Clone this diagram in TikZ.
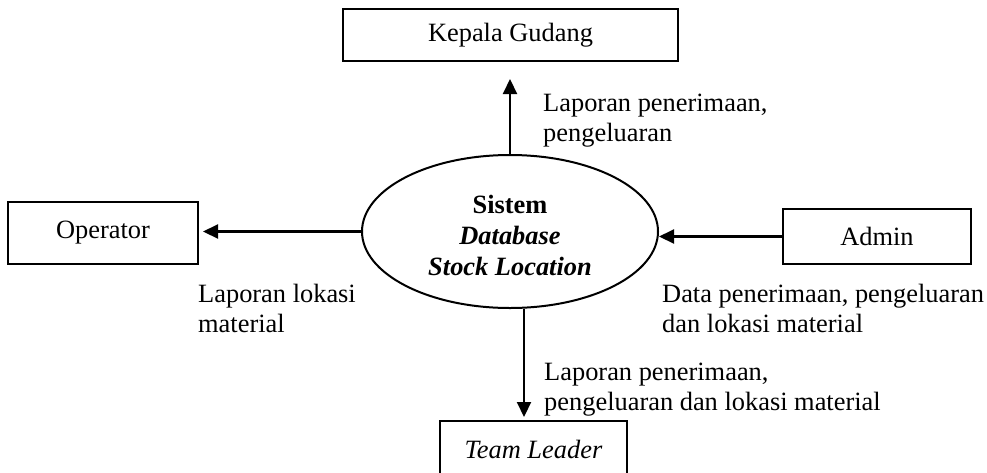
\documentclass[tikz,border=0pt]{standalone}
\usepackage{fontspec}
\setmainfont{Liberation Serif}
\usetikzlibrary{arrows.meta,shapes.geometric}
\begin{document}
\begin{tikzpicture}[x=1pt,y=-1pt,
  every node/.style={font=\fontsize{26.4pt}{30.6pt}\selectfont},
  entity/.style={draw, line width=2pt, inner sep=0pt},
  process/.style={draw, ellipse, line width=2pt, inner sep=0pt},
  flow/.style={line width=2.1pt, -{Triangle[length=15pt,width=14pt]}},
  lbl/.style={anchor=base west, inner sep=0pt}
]
\useasboundingbox (0,0) rectangle (987,472);

% external entities
\node[entity, minimum width=335pt, minimum height=52pt] (kg) at (510.5,35) {Kepala Gudang};
\node[entity, minimum width=190pt, minimum height=62pt] (op) at (103,233) {Operator};
\node[entity, minimum width=188pt, minimum height=55pt] (ad) at (877,236.5) {Admin};
\node[entity, minimum width=187pt, minimum height=57pt] (tl) at (533.5,449.5) {\textit{Team Leader}};

% the system process and its name
\node[process, minimum width=296pt, minimum height=153pt] (sys) at (510,231.5) {};
\node[align=center, inner sep=0pt] (systxt) at ([yshift=-4pt]sys.center)
  {\textbf{Sistem}\\\textbf{\textit{Database}}\\\textbf{\textit{Stock Location}}};

% free ends of the data flows
\coordinate (kgin) at (510,79);
\coordinate (opin) at (203,231.5);
\coordinate (tlin) at (524,417);

% data flows
\draw[flow] (sys.north) -- (kgin);
\draw[flow] (sys.west) -- (opin);
\draw[flow] (ad.west) -- (sys.east |- ad.west);
\draw[flow] (sys.south -| tlin) -- (tlin);

% flow labels
\node[lbl] (l1) at (543,111) {\begin{tabular}[t]{@{}l@{}}Laporan penerimaan,\\pengeluaran\end{tabular}};
\node[lbl] (l2) at (198,302) {\begin{tabular}[t]{@{}l@{}}Laporan lokasi\\material\end{tabular}};
\node[lbl] (l3) at (662,302) {\begin{tabular}[t]{@{}l@{}}Data penerimaan, pengeluaran\\dan lokasi material\end{tabular}};
\node[lbl] (l4) at (544,380) {\begin{tabular}[t]{@{}l@{}}Laporan penerimaan,\\pengeluaran dan lokasi material\end{tabular}};
\end{tikzpicture}
\end{document}
